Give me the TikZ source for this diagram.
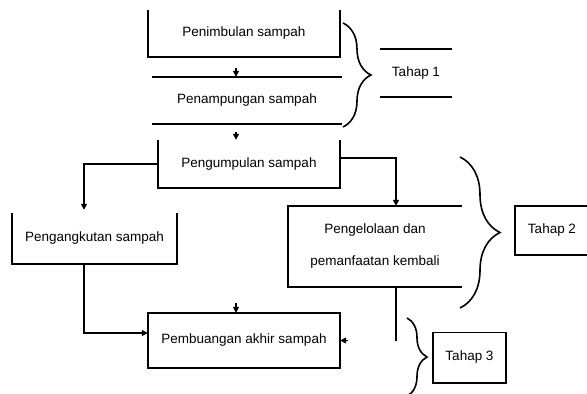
\documentclass[tikz,border=0pt]{standalone}
\usepackage{fontspec}
\setmainfont{Liberation Sans}
\usetikzlibrary{arrows.meta,decorations.pathreplacing,calc}
\begin{document}
\begin{tikzpicture}[x=1pt,y=-1pt,
  every node/.style={font=\fontsize{13.5}{16}\selectfont, inner sep=0pt},
  line/.style={line width=1.6pt},
  arr/.style={line width=1.6pt,-{Triangle[length=6pt,width=6pt]}},
  brc/.style={decorate,decoration={brace,amplitude=#1},line width=1.6pt}]
  \useasboundingbox (0,0) rectangle (587,394);
  \node (timbul) [minimum width=192pt,minimum height=47pt] at (244,33.5) {Penimbulan sampah};
  \node (tampung) [minimum width=190pt,minimum height=47pt] at (247,100.5) {Penampungan sampah};
  \node (kumpul) [minimum width=182pt,minimum height=48pt] at (249,164) {Pengumpulan sampah};
  \node (angkut) [minimum width=165pt,minimum height=51pt] at (94.5,238.5) {Pengangkutan sampah};
  \node (olah) [minimum width=174pt,minimum height=81pt,align=center,
    font=\fontsize{13.5}{32}\selectfont] at (375,246.5) {Pengelolaan dan\\pemanfaatan kembali};
  \node (buang) [minimum width=192pt,minimum height=55pt] at (244,340.5) {Pembuangan akhir sampah};
  \node (tahapsatu) [minimum width=72pt,minimum height=48pt] at (416,73) {Tahap 1};
  \node (tahapdua) [minimum width=74pt,minimum height=49pt] at (552,230.5) {Tahap 2};
  \node (tahaptiga) [minimum width=73pt,minimum height=50pt] at (469.5,357.5) {Tahap 3};
  \coordinate (mid) at (236,0);
  \coordinate (kiri) at (84,0);
  \coordinate (kanan) at (396,0);

  \draw[line] (timbul.north west) -- (timbul.south west) -- (timbul.south east) -- (timbul.north east);
  \draw[line] (tampung.north west) -- (tampung.north east);
  \draw[line] (tampung.south west) -- (tampung.south east);
  \draw[line] (kumpul.north west) -- (kumpul.south west) -- (kumpul.south east) -- (kumpul.north east);
  \draw[line] (angkut.north west) -- (angkut.south west) -- (angkut.south east) -- (angkut.north east);
  \draw[line] (olah.north east) -- (olah.north west) -- (olah.south west) -- (olah.south east);
  \draw[line] (buang.north west) rectangle (buang.south east);
  \draw[line] (tahapsatu.north west) -- (tahapsatu.north east);
  \draw[line] (tahapsatu.south west) -- (tahapsatu.south east);
  \draw[line] (tahapdua.north east) -- (tahapdua.north west) -- (tahapdua.south west) -- (tahapdua.south east);
  \draw[line] (tahaptiga.north west) rectangle (tahaptiga.south east);

  \draw[arr, shorten <=11pt] (timbul.south -| mid) -- (tampung.north -| mid);
  \draw[arr, shorten <=8pt] (tampung.south -| mid) -- (kumpul.north -| mid);
  \draw[arr, shorten >=3pt] (kumpul.west) -| (kiri |- angkut.north);
  \draw[arr] ($(kumpul.east)+(0,-6)$) -| (kanan |- olah.north);
  \draw[arr] (kiri |- angkut.south) |- ($(buang.west)+(0,-7.5)$);
  \draw[line] (kanan |- olah.south) -- (kanan |- buang.east);
  \draw[arr, shorten <=48pt] (kanan |- buang.east) -- (buang.east);
  \draw[arr] ($(buang.north -| mid)+(0,-10)$) -- (buang.north -| mid);

  \draw[brc=28pt] (343,23) -- (343,127);
  \draw[brc=40pt] (460,157) -- (460,308);
  \draw[brc=20pt] (407,318) -- (407,396);
\end{tikzpicture}
\end{document}
